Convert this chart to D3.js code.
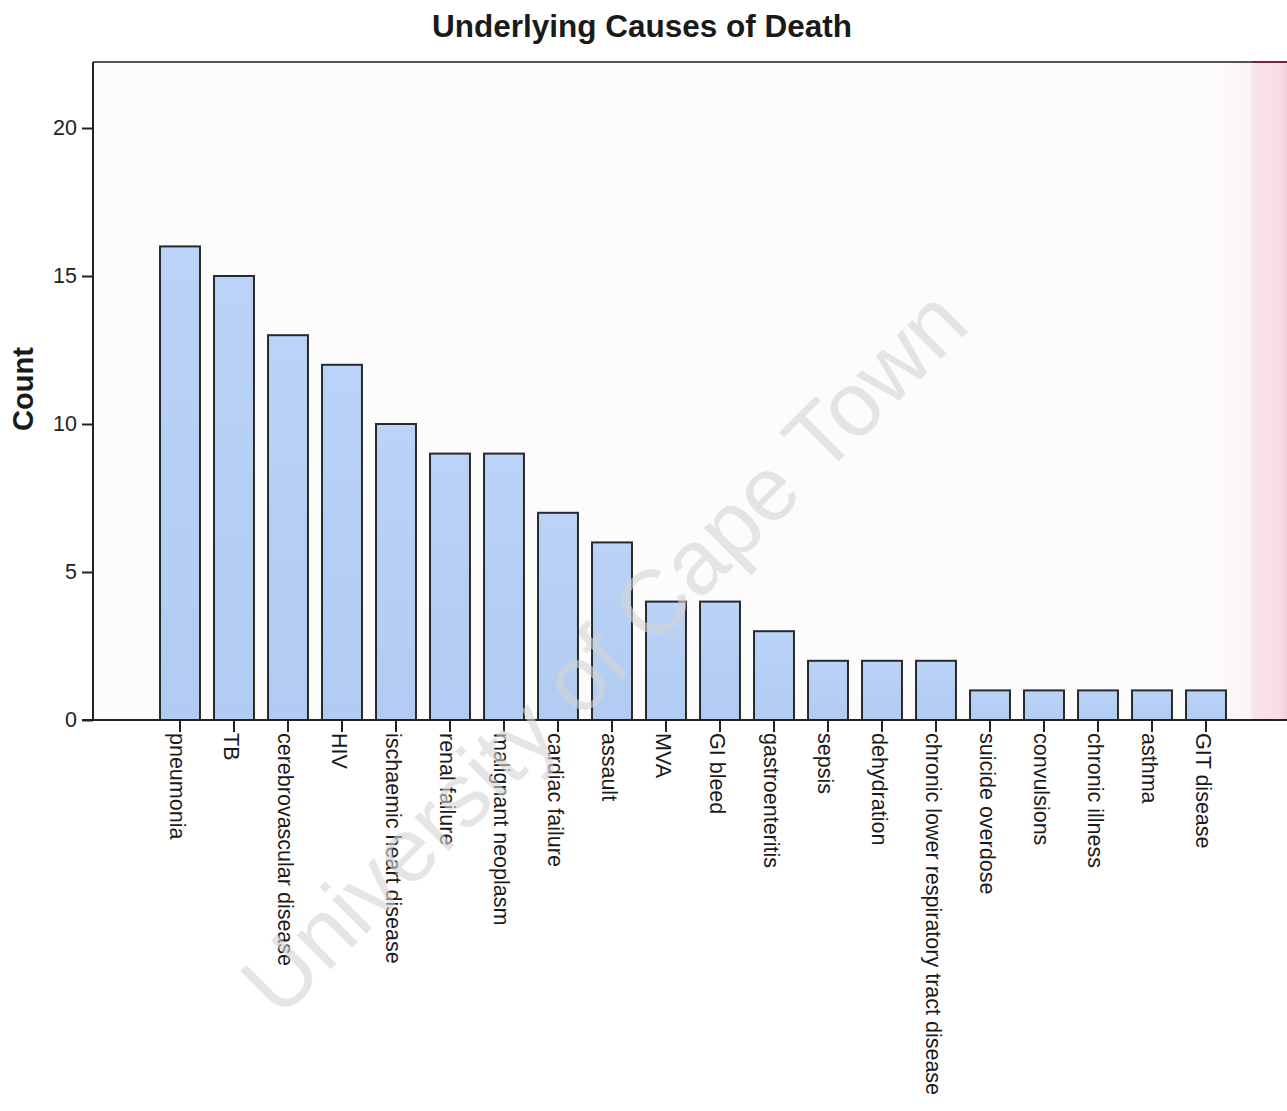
<!DOCTYPE html>
<html>
<head>
<meta charset="utf-8">
<script src="https://cdn.jsdelivr.net/npm/d3@7"></script>
<style>
  html, body { margin: 0; padding: 0; background: #ffffff; }
  svg { display: block; font-family: "Liberation Sans", Arial, sans-serif; }
</style>
</head>
<body>
<svg id="chart" width="1287" height="1111"></svg>
<script>
const categories = [
  "pneumonia", "TB", "cerebrovascular disease", "HIV", "ischaemic heart disease",
  "renal failure", "malignant neoplasm", "cardiac failure", "assault", "MVA",
  "GI bleed", "gastroenteritis", "sepsis", "dehydration",
  "chronic lower respiratory tract disease", "suicide overdose", "convulsions",
  "chronic illness", "asthma", "GIT disease"
];
const counts = [16, 15, 13, 12, 10, 9, 9, 7, 6, 4, 4, 3, 2, 2, 2, 1, 1, 1, 1, 1];
const yTicks = [0, 5, 10, 15, 20];
const title = "Underlying Causes of Death";
const yLabel = "Count";
const watermark = "University of Cape Town";

const svg = d3.select("#chart");
const plot = { left: 93, top: 62, right: 1287, bottom: 720 };

const x = d3.scaleBand()
  .domain(categories)
  .range([153, 1233])
  .paddingInner(0.26)
  .paddingOuter(0.13);

const y = d3.scaleLinear()
  .domain([0, 22.23])
  .range([plot.bottom, plot.top]);

const defs = svg.append("defs");
const pink = defs.append("linearGradient").attr("id", "pinkband")
  .attr("x1", "0").attr("x2", "1").attr("y1", "0").attr("y2", "1e-6");
pink.append("stop").attr("offset", "0").attr("stop-color", "#fdfcfc").attr("stop-opacity", 0);
pink.append("stop").attr("offset", "0.61").attr("stop-color", "#faf1f4").attr("stop-opacity", 1);
pink.append("stop").attr("offset", "0.62").attr("stop-color", "#f8e3ea").attr("stop-opacity", 1);
pink.append("stop").attr("offset", "0.92").attr("stop-color", "#f6dde6").attr("stop-opacity", 1);
pink.append("stop").attr("offset", "1").attr("stop-color", "#f1d0dc").attr("stop-opacity", 1);

const barGrad = defs.append("linearGradient").attr("id", "bargrad")
  .attr("x1", "0").attr("x2", "0").attr("y1", "0").attr("y2", "1");
barGrad.append("stop").attr("offset", "0").attr("stop-color", "#bad3f6");
barGrad.append("stop").attr("offset", "1").attr("stop-color", "#b1cbf2");

// plot background
svg.append("rect")
  .attr("x", plot.left).attr("y", plot.top)
  .attr("width", plot.right - plot.left).attr("height", plot.bottom - plot.top)
  .attr("fill", "#fdfcfc");

// pink band at right
svg.append("rect")
  .attr("x", 1195).attr("y", plot.top)
  .attr("width", plot.right - 1195).attr("height", plot.bottom - plot.top)
  .attr("fill", "url(#pinkband)");

// top border
svg.append("line")
  .attr("x1", plot.left).attr("x2", 1252)
  .attr("y1", plot.top).attr("y2", plot.top)
  .attr("stroke", "#555").attr("stroke-width", 2);
svg.append("line")
  .attr("x1", 1252).attr("x2", plot.right)
  .attr("y1", plot.top).attr("y2", plot.top)
  .attr("stroke", "#7a2238").attr("stroke-width", 2);

// bars
svg.append("g").selectAll("rect")
  .data(categories)
  .join("rect")
  .attr("x", d => x(d))
  .attr("y", (d, i) => y(counts[i]))
  .attr("width", x.bandwidth())
  .attr("height", (d, i) => y(0) - y(counts[i]))
  .attr("fill", "url(#bargrad)")
  .attr("stroke", "#2a2a2a")
  .attr("stroke-width", 2);

// y axis
const yAxis = svg.append("g")
  .attr("transform", `translate(${plot.left},0)`)
  .call(d3.axisLeft(y).tickValues(yTicks).tickSize(11).tickPadding(5).tickSizeOuter(0));
yAxis.select(".domain").attr("stroke", "#222").attr("stroke-width", 2)
  .attr("d", `M0,${plot.top}V${plot.bottom}`);
yAxis.selectAll(".tick line").attr("stroke", "#222").attr("stroke-width", 2);
yAxis.selectAll(".tick text")
  .attr("fill", "#222")
  .style("font-size", "21.5px")
  .style("font-family", "'Liberation Sans', Arial, sans-serif");

// x axis
const xAxis = svg.append("g")
  .attr("transform", `translate(0,${plot.bottom})`)
  .call(d3.axisBottom(x).tickSize(12).tickSizeOuter(0));
xAxis.select(".domain").attr("stroke", "#222").attr("stroke-width", 2)
  .attr("d", `M82,0H${plot.right}`);
xAxis.selectAll(".tick line").attr("stroke", "#222").attr("stroke-width", 2);
xAxis.selectAll(".tick text")
  .attr("fill", "#1a1a1a")
  .style("font-size", "21.5px")
  .style("font-family", "'Liberation Sans', Arial, sans-serif")
  .attr("text-anchor", "start")
  .attr("transform", "translate(0,13) rotate(90)")
  .attr("x", 0)
  .attr("y", 0)
  .attr("dy", "0.48em");

// title
svg.append("text")
  .attr("x", 642).attr("y", 37)
  .attr("text-anchor", "middle")
  .style("font-size", "31.5px")
  .style("font-weight", "bold")
  .attr("fill", "#1a1a1a")
  .text(title);

// y label
svg.append("text")
  .attr("transform", "translate(33,389) rotate(-90)")
  .attr("text-anchor", "middle")
  .style("font-size", "29px")
  .style("font-weight", "bold")
  .attr("fill", "#1a1a1a")
  .text(yLabel);

// watermark
svg.append("text")
  .attr("transform", "translate(626,674) rotate(-45)")
  .attr("text-anchor", "middle")
  .style("font-size", "91px")
  .attr("fill", "#d4d4d4")
  .attr("fill-opacity", 0.6)
  .text(watermark);
</script>
</body>
</html>
